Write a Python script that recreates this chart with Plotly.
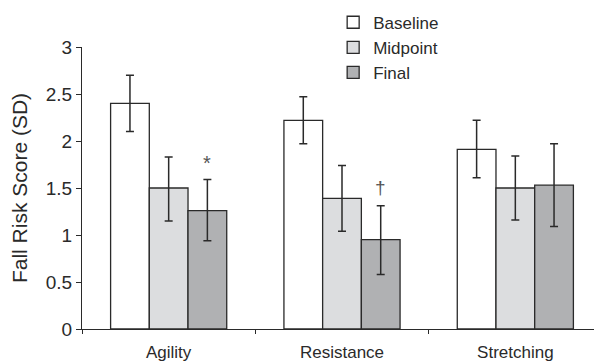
import plotly.graph_objects as go

categories = ["Agility", "Resistance", "Stretching"]
series_names = ["Baseline", "Midpoint", "Final"]
values = {
    "Baseline": [2.40, 2.22, 1.91],
    "Midpoint": [1.50, 1.39, 1.50],
    "Final": [1.26, 0.95, 1.53],
}
err_plus = {
    "Baseline": [0.30, 0.25, 0.31],
    "Midpoint": [0.33, 0.35, 0.34],
    "Final": [0.33, 0.36, 0.44],
}
err_minus = {
    "Baseline": [0.30, 0.25, 0.30],
    "Midpoint": [0.35, 0.35, 0.34],
    "Final": [0.32, 0.37, 0.44],
}
colors = {"Baseline": "#ffffff", "Midpoint": "#dcdddf", "Final": "#b0b1b3"}
y_ticks = [0, 0.5, 1, 1.5, 2, 2.5, 3]
y_tick_labels = ["0", "0.5", "1", "1.5", "2", "2.5", "3"]
# significance markers: (category index, series index, symbol)
markers = [(0, 2, "*"), (1, 2, "†")]

FONT = "Liberation Sans, Arial, Helvetica, sans-serif"
DARK = "#2a2a2a"
bargap = 0.33

fig = go.Figure()
for name in series_names:
    fig.add_trace(go.Bar(
        name=name,
        x=categories,
        y=values[name],
        marker=dict(color=colors[name], line=dict(color=DARK, width=1.3)),
        error_y=dict(type="data", symmetric=False, array=err_plus[name],
                     arrayminus=err_minus[name], color=DARK, thickness=1.5, width=4),
    ))

bw = (1 - bargap) / len(series_names)
for ci, si, sym in markers:
    name = series_names[si]
    top = values[name][ci] + err_plus[name][ci]
    fig.add_annotation(
        x=ci + (si - (len(series_names) - 1) / 2) * bw,
        y=top, xref="x", yref="y", text=sym, showarrow=False,
        yanchor="bottom", yshift=6 if sym == "†" else 4,
        font=dict(family=FONT, size=20 if sym == "*" else 19, color="#555555"),
    )

# the page body adds an 8px offset; the figure size/margins compensate for it
fig.update_layout(
    width=594, height=356,
    margin=dict(l=74, r=0, t=39, b=35, autoexpand=False),
    paper_bgcolor="white", plot_bgcolor="white",
    barmode="group", bargap=bargap, bargroupgap=0,
    font=dict(family=FONT, size=18, color=DARK),
    showlegend=True,
    legend=dict(
        x=0.483, y=1.15, xanchor="left", yanchor="top",
        bgcolor="rgba(0,0,0,0)", font=dict(family=FONT, size=17, color=DARK),
        tracegroupgap=0, itemwidth=30,
    ),
    xaxis=dict(
        showline=True, linecolor=DARK, linewidth=1.2,
        ticks="outside", tickson="boundaries", ticklen=4, tickcolor=DARK,
        tickfont=dict(family=FONT, size=17, color=DARK), ticklabelstandoff=7,
        showgrid=False, zeroline=False, automargin=False,
    ),
    yaxis=dict(
        range=[0, 3], tickvals=y_ticks, ticktext=y_tick_labels,
        showline=True, linecolor=DARK, linewidth=1.2,
        ticks="outside", ticklen=5, tickcolor=DARK,
        tickfont=dict(family=FONT, size=19, color=DARK),
        showgrid=False, zeroline=False, automargin=False,
        title=dict(text="Fall Risk Score (SD)", font=dict(family=FONT, size=21, color=DARK), standoff=14),
    ),
)

fig.write_html("out.html")
